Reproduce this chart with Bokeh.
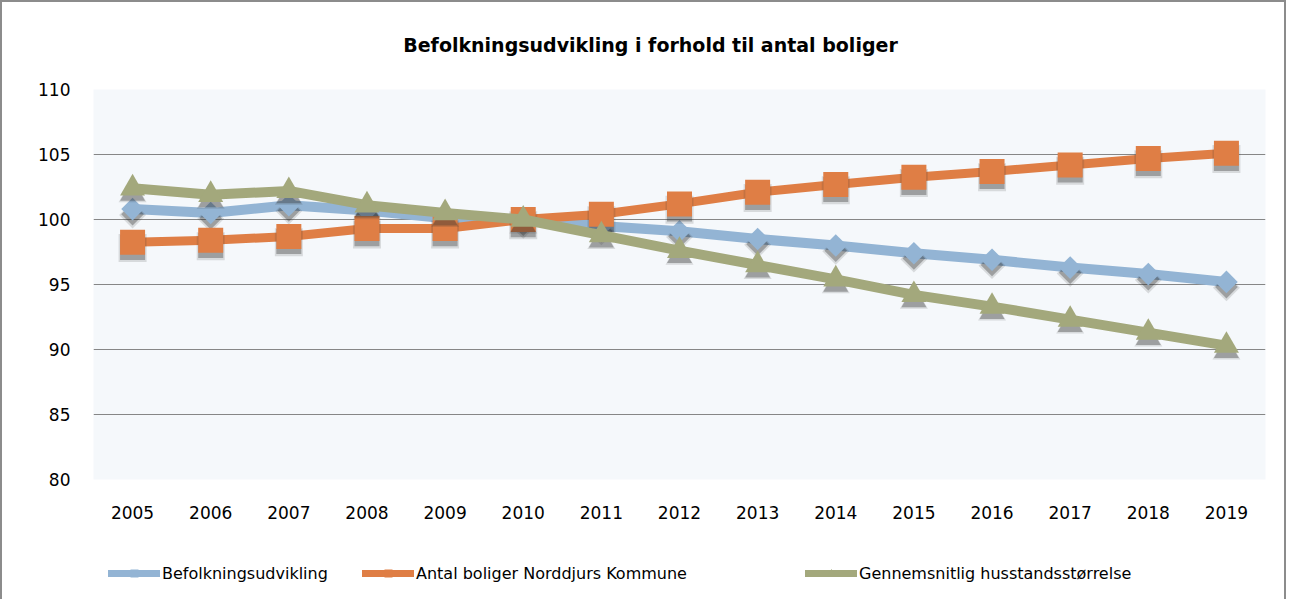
import math
from bokeh.plotting import figure
from bokeh.layouts import column
from bokeh.models import (Range1d, FactorRange, FixedTicker, Legend, LegendItem, ColumnDataSource)
from bokeh.transform import dodge
from bokeh.core.properties import value
from bokeh.embed import file_html
from bokeh.resources import INLINE

# ---- data ----
years = [str(y) for y in range(2005, 2020)]
befolkning = [100.8, 100.5, 101.1, 100.7, 100.1, 100.0, 99.5, 99.1, 98.5, 98.0, 97.4, 96.9, 96.3, 95.8, 95.2]
boliger = [98.25, 98.4, 98.7, 99.3, 99.3, 100.0, 100.4, 101.2, 102.1, 102.7, 103.25, 103.7, 104.2, 104.7, 105.1]
husstand = [102.4, 101.9, 102.2, 101.1, 100.5, 100.0, 98.8, 97.6, 96.5, 95.4, 94.2, 93.3, 92.3, 91.3, 90.3]
series_names = ["Befolkningsudvikling", "Antal boliger Norddjurs Kommune", "Gennemsnitlig husstandsstørrelse"]
y_ticks = [80, 85, 90, 95, 100, 105, 110]
title_text = "Befolkningsudvikling i forhold til antal boliger"

colors = ["#93B4D4", "#DF7E45", "#A3A87C"]
markers = ["square", "square", "triangle"]
angles = [math.pi / 4, 0.0, 0.0]
sizes = [16, 25, 25]
widths = [10, 9, 10]

W = 1286
FRAME_W = 1172
BORDER = "2px solid #8c8c8c"


def blank_figure(height, styles):
    f = figure(width=W, height=height, x_range=Range1d(0, FRAME_W), y_range=Range1d(0, height),
               output_backend="svg", toolbar_location=None,
               x_axis_location=None, y_axis_location=None,
               min_border_left=0, min_border_right=0, min_border_top=0, min_border_bottom=0)
    f.grid.visible = False
    f.outline_line_color = None
    f.background_fill_color = "#FFFFFF"
    f.border_fill_color = "#FFFFFF"
    f.styles = styles
    return f


# ---- header with the title ----
head = blank_figure(62, {"border-left": BORDER, "border-top": BORDER, "border-right": BORDER})
head.text(x=[557], y=[20], text=[title_text], text_font=value("DejaVu Sans"),
          text_font_style="bold", text_font_size="19px", text_color="#000000",
          text_align="center", text_baseline="middle")

# ---- main chart ----
p = figure(width=W, height=467,
           x_range=FactorRange(*years), y_range=Range1d(80, 110),
           output_backend="svg", toolbar_location=None,
           min_border_left=91, min_border_right=23, min_border_top=27, min_border_bottom=50)
p.styles = {"border-left": BORDER, "border-right": BORDER}
p.background_fill_color = "#F5F8FB"
p.border_fill_color = "#FFFFFF"
p.outline_line_color = None

p.yaxis.ticker = FixedTicker(ticks=y_ticks)
p.ygrid.ticker = FixedTicker(ticks=y_ticks)
p.ygrid.grid_line_color = "#868686"
p.ygrid.grid_line_width = 1
p.xgrid.grid_line_color = None

for ax in (p.xaxis, p.yaxis):
    ax.axis_line_color = None
    ax.major_tick_line_color = None
    ax.minor_tick_line_color = None
    ax.major_label_text_font = "DejaVu Sans"
    ax.major_label_text_font_size = "17px"
    ax.major_label_text_color = "#000000"
p.yaxis.major_label_standoff = 17
p.xaxis.major_label_standoff = 20

src = ColumnDataSource(dict(x=years, b=befolkning, o=boliger, g=husstand))
cols = ["b", "o", "g"]

for col, c, m, a, s, w in zip(cols, colors, markers, angles, sizes, widths):
    p.line("x", col, source=src, line_color=c, line_width=w, line_join="round")
    p.scatter("x", dodge(col, -0.45), source=src, marker=m, angle=a, size=s + 3,
              fill_color="#303030", fill_alpha=0.15, line_color=None)
    p.scatter("x", dodge(col, -0.4), source=src, marker=m, angle=a, size=s,
              fill_color="#303030", fill_alpha=0.35, line_color=None)
    p.scatter("x", col, source=src, marker=m, angle=a, size=s, fill_color=c, line_color=None)

# ---- footer with the legend (legend-only glyphs, nothing drawn in the plot) ----
foot = blank_figure(70, {"border-left": BORDER, "border-right": BORDER})
nan_src = ColumnDataSource(dict(x=[float("nan")], y=[float("nan")]))
leg_x = [15, 269, 712]
for name, c, m, a, lx in zip(series_names, colors, markers, angles, leg_x):
    lr = foot.line("x", "y", source=nan_src, line_color=c, line_width=7, line_cap="round")
    sr = foot.scatter("x", "y", source=nan_src, marker=m, angle=a, size=9 if a else 12,
                      fill_color=c, line_color=None)
    leg = Legend(items=[LegendItem(label=name, renderers=[lr, sr])],
                 location=(lx, 16), orientation="horizontal",
                 glyph_width=52, glyph_height=20, label_standoff=2,
                 padding=0, margin=0, spacing=0,
                 border_line_color=None, background_fill_alpha=0,
                 label_text_font="DejaVu Sans", label_text_font_size="16px",
                 label_text_color="#000000")
    foot.add_layout(leg, "center")

layout = column(head, p, foot, spacing=0)
open("out.html", "w").write(file_html(layout, INLINE))
